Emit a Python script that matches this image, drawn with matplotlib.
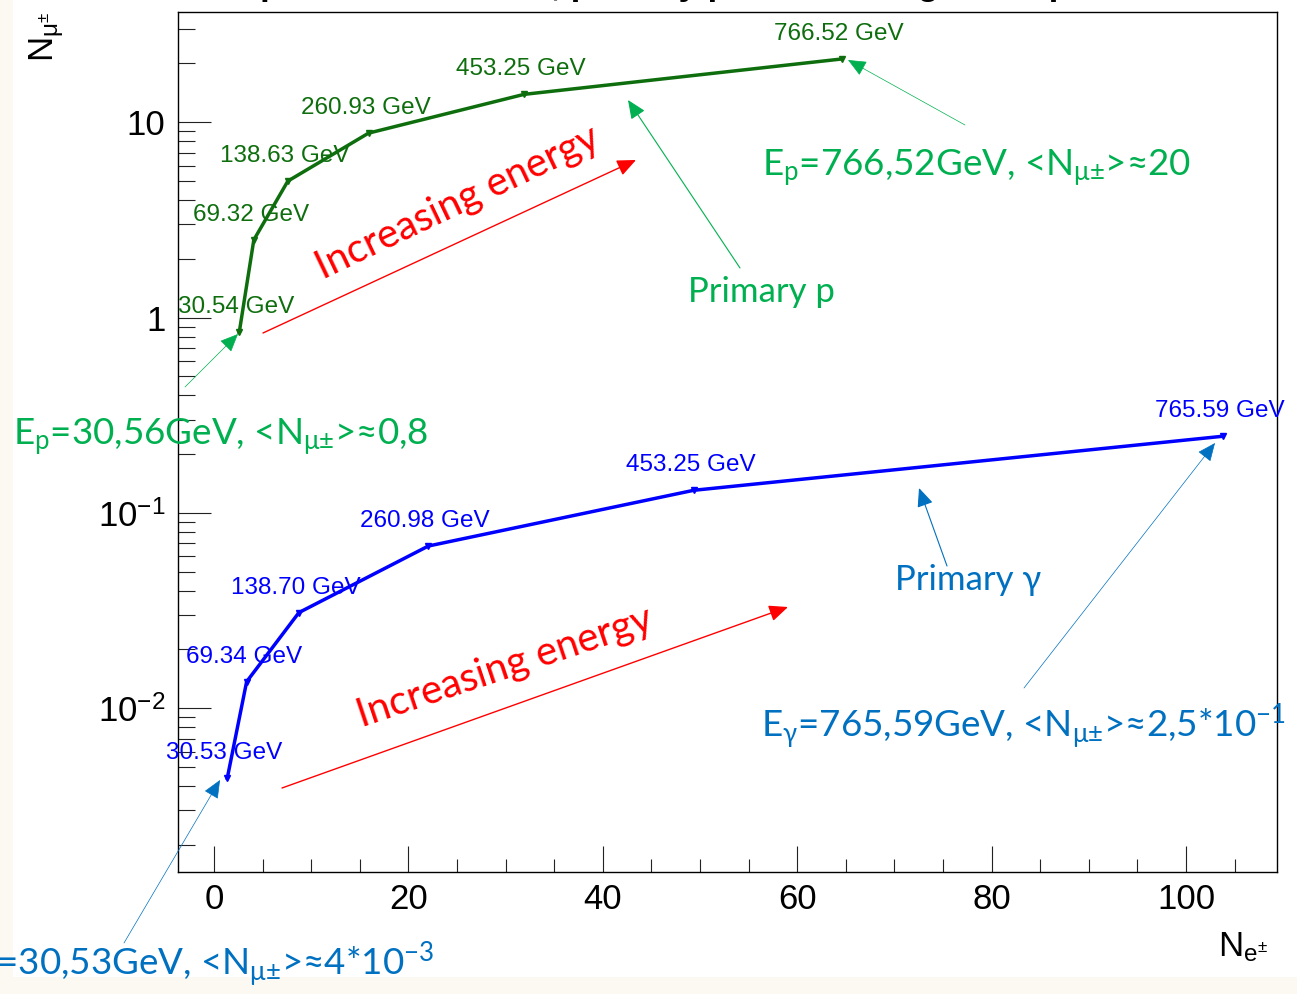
import matplotlib
matplotlib.use('Agg')
import matplotlib.pyplot as plt
from matplotlib.ticker import FixedLocator, MultipleLocator, LogLocator, FuncFormatter, NullFormatter
from matplotlib.patches import Rectangle, FancyArrowPatch

W, H = 1297, 994

# ---------------- data ----------------
proton_ne = [2.6, 4.1, 7.6, 15.9, 31.9, 64.6]
proton_nmu = [0.84, 2.5, 5.0, 8.8, 13.9, 21.1]
proton_labels = ["30.54 GeV", "69.32 GeV", "138.63 GeV", "260.93 GeV", "453.25 GeV", "766.52 GeV"]

gamma_ne = [1.37, 3.36, 8.74, 22.05, 49.35, 103.8]
gamma_nmu = [0.00439, 0.01368, 0.0309, 0.0677, 0.1306, 0.247]
gamma_labels = ["30.53 GeV", "69.34 GeV", "138.70 GeV", "260.98 GeV", "453.25 GeV", "765.59 GeV"]

x_ticks = [0, 20, 40, 60, 80, 100]
y_ticks = [0.01, 0.1, 1, 10]
y_tick_labels = [r"10$^{\mathsf{-2}}$", r"10$^{\mathsf{-1}}$", "1", "10"]

title_text = "Comparison of muons, primary protons and gamma photons"

# ---------------- style ----------------
plt.rcParams.update({
    'font.family': ['Liberation Sans', 'DejaVu Sans'],
    'mathtext.fontset': 'custom',
    'mathtext.rm': 'Lato',
    'mathtext.it': 'Lato:italic',
    'mathtext.bf': 'Lato:bold',
    'mathtext.sf': 'Liberation Sans',
})

DKGREEN = '#0e6e0e'
BLUE = '#0000ff'
PGREEN = '#00b050'
PBLUE = '#0070c0'
RED = '#ff0000'
ANN_FONT = ['Lato', 'DejaVu Sans']

fig = plt.figure(figsize=(W / 100, H / 100), dpi=100)
fig.patch.set_facecolor('white')
fig.patches.append(Rectangle((0, 0), 13 / W, 1, transform=fig.transFigure,
                             facecolor='#fcf9f3', edgecolor='none', zorder=0))
fig.patches.append(Rectangle((0, 0), 1, (H - 977) / H, transform=fig.transFigure,
                             facecolor='#fcf9f3', edgecolor='none', zorder=0))

ax = fig.add_axes([178 / W, 1 - 871.5 / H, (1277 - 178) / W, (871.5 - 12) / H])
ax.set_facecolor('white')
ax.set_yscale('log')
ax.set_xlim(-3.7, 109.36)
ax.set_ylim(0.00146, 36.7)

ax.xaxis.set_major_locator(FixedLocator(x_ticks))
ax.xaxis.set_minor_locator(MultipleLocator(5))
ax.yaxis.set_major_locator(FixedLocator(y_ticks))
ax.yaxis.set_minor_locator(LogLocator(base=10, subs=range(2, 10), numticks=20))
ylab_map = dict(zip(y_ticks, y_tick_labels))
ax.yaxis.set_major_formatter(FuncFormatter(lambda v, p: min(ylab_map.items(), key=lambda kv: abs(kv[0] - v) / kv[0])[1]))
ax.yaxis.set_minor_formatter(NullFormatter())

ax.tick_params(which='both', direction='in', top=False, right=False, color='#222222')
ax.tick_params(axis='y', which='major', length=23.8, width=0.8, pad=9, labelsize=25)
ax.tick_params(axis='y', which='minor', length=12.2, width=0.8)
ax.tick_params(axis='x', which='major', length=18.7, width=0.8, pad=8, labelsize=25)
ax.tick_params(axis='x', which='minor', length=9.4, width=0.8)
for s in ax.spines.values():
    s.set_linewidth(1.0)
    s.set_color('black')

# ---------------- series ----------------
ax.plot(proton_ne, proton_nmu, color=DKGREEN, lw=2.5, marker='v', ms=4.5, zorder=3)
ax.plot(gamma_ne, gamma_nmu, color=BLUE, lw=2.5, marker='v', ms=4.5, zorder=3)

for x, y, lab in zip(proton_ne, proton_nmu, proton_labels):
    ax.annotate(lab, (x, y), xytext=(-3, 19), textcoords='offset pixels', ha='center',
                va='baseline', fontsize=17.5, color=DKGREEN, annotation_clip=False)
for x, y, lab in zip(gamma_ne, gamma_nmu, gamma_labels):
    ax.annotate(lab, (x, y), xytext=(-3, 19), textcoords='offset pixels', ha='center',
                va='baseline', fontsize=17.5, color=BLUE, annotation_clip=False)

# ---------------- axis titles (ROOT style) ----------------
fig.text(47 / W, 1 - 12 / H, r"N$_{\mathsf{\mu}^{\mathsf{\pm}}}$", rotation=90, ha='center', va='top',
         fontsize=25)
fig.text(1268 / W, 1 - 957 / H, r"N$_{\mathsf{e}^{\mathsf{\pm}}}$", ha='right', va='baseline', fontsize=25)

# title, cut off by the top edge as in the screenshot
fig.text(183 / W, 1 + 5.5 / H, title_text, ha='left', va='baseline', fontsize=25, fontweight='bold')

# ---------------- slide annotations ----------------
def fpos(x, y):
    return (x / W, 1 - y / H)

def arrow(x0, y0, x1, y1, color, lw, hl=1.15, hw=0.5):
    a = FancyArrowPatch(fpos(x0, y0), fpos(x1, y1), transform=fig.transFigure,
                        arrowstyle=f'-|>,head_length={hl},head_width={hw}', mutation_scale=10,
                        color=color, lw=lw, shrinkA=0, shrinkB=0, zorder=5)
    fig.add_artist(a)

def ftext(x, y, s, color, size=26, **kw):
    fig.text(x / W, 1 - y / H, s, color=color, fontsize=size, family=ANN_FONT,
             va='baseline', zorder=6, **kw)

MU_PM = r"$_\mathrm{\mu{\pm}}$"

# red "Increasing energy"
arrow(263, 333, 636, 160, RED, 1.0)
arrow(282, 788, 788, 607, RED, 1.0)
ftext(323, 280, "Increasing energy", RED, 28.8, rotation=25.5, rotation_mode='anchor', ha='left')
ftext(362, 727, "Increasing energy", RED, 28.8, rotation=18.5, rotation_mode='anchor', ha='left')

# proton annotations
arrow(740, 268, 628, 100, PGREEN, 0.8)
ftext(688, 302, "Primary p", PGREEN, 25, ha='left')
arrow(965, 125, 848, 60, PGREEN, 0.5)
ftext(762, 176, r"E$_\mathrm{p}$=766,52GeV, <N" + MU_PM + ">≈20", PGREEN, 26.5, ha='left')
arrow(185, 387, 238, 334, PGREEN, 0.5)
ftext(13, 445, r"E$_\mathrm{p}$=30,56GeV, <N" + MU_PM + ">≈0,8", PGREEN, 26.5, ha='left')

# gamma annotations
arrow(947, 566, 919, 488, PBLUE, 0.8)
ftext(895, 590, "Primary \u03b3", PBLUE, 25, ha='left')
arrow(1024, 688, 1215, 443, PBLUE, 0.5)
ftext(761, 737, r"E$_\mathrm{\gamma}$=765,59GeV, <N" + MU_PM + r">≈2,5*10$^\mathrm{-1}$", PBLUE, 26.5, ha='left')
arrow(124, 943, 220, 780, PBLUE, 0.5)
ftext(434, 975, r"E$_\mathrm{\gamma}$=30,53GeV, <N" + MU_PM + r">≈4*10$^\mathrm{-3}$", PBLUE, 26.5, ha='right')

fig.savefig('out.png', dpi=100, facecolor=fig.get_facecolor())
